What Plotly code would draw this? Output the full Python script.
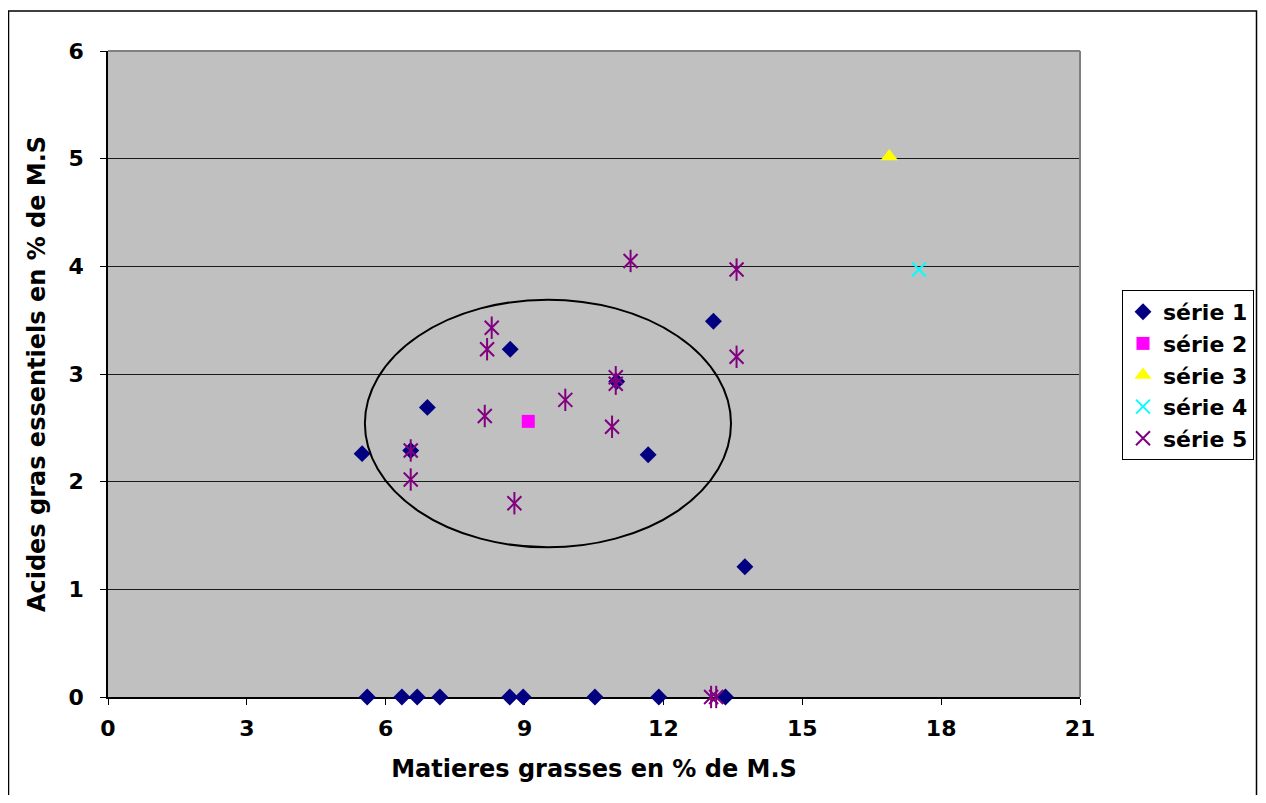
import plotly.graph_objects as go

# ---- data ----
s1_x = [5.49, 5.60, 6.35, 6.68, 7.17, 8.68, 8.97, 10.52, 11.90, 13.34,
        6.54, 6.90, 8.69, 10.99, 11.67, 13.08, 13.76]
s1_y = [2.26, 0, 0, 0, 0, 0, 0, 0, 0, 0,
        2.29, 2.69, 3.23, 2.93, 2.25, 3.49, 1.21]
s2_x = [9.08]
s2_y = [2.56]
s3_x = [16.88]
s3_y = [5.02]
s4_x = [17.52]
s4_y = [3.97]
s5_x = [6.54, 6.54, 8.14, 8.19, 8.29, 8.78, 9.88, 10.89, 10.97, 10.97,
        11.29, 13.58, 13.58, 13.03, 13.14]
s5_y = [2.29, 2.02, 2.61, 3.23, 3.43, 1.80, 2.76, 2.51, 2.97, 2.91,
        4.05, 3.97, 3.16, 0, 0]
series_names = ["série 1", "série 2", "série 3", "série 4", "série 5"]
x_ticks = [0, 3, 6, 9, 12, 15, 18, 21]
y_ticks = [0, 1, 2, 3, 4, 5, 6]
ellipse_x = [5.55, 13.46]
ellipse_y = [1.39, 3.69]

FONT = "DejaVu Sans"
OFF = 8  # page body margin
W, H = 1266 - 2 * OFF, 803 - 2 * OFF
L, R, T, B = 108 - OFF, 1080 - OFF, 51 - OFF, 697 - OFF

fig = go.Figure()
fig.add_trace(go.Scatter(x=s1_x, y=s1_y, mode="markers", name=series_names[0],
                         marker=dict(symbol="diamond", size=13, color="#000080"), cliponaxis=False))
fig.add_trace(go.Scatter(x=s2_x, y=s2_y, mode="markers", name=series_names[1],
                         marker=dict(symbol="square", size=13, color="#FF00FF"), cliponaxis=False))
fig.add_trace(go.Scatter(x=s3_x, y=s3_y, mode="markers", name=series_names[2],
                         marker=dict(symbol="triangle-up", size=15, color="#FFFF00"), cliponaxis=False))
fig.add_trace(go.Scatter(x=s4_x, y=s4_y, mode="markers", name=series_names[3],
                         marker=dict(symbol="x-thin-open", size=14, color="#00FFFF",
                                     line=dict(width=2, color="#00FFFF")), cliponaxis=False))
fig.add_trace(go.Scatter(x=s5_x, y=s5_y, mode="markers", name=series_names[4],
                         marker=dict(symbol="x-thin-open", size=14, color="#800080",
                                     line=dict(width=2, color="#800080")), cliponaxis=False))
fig.add_trace(go.Scatter(x=s5_x, y=s5_y, mode="markers", name=series_names[4], showlegend=False,
                         marker=dict(symbol="line-ns-open", size=16, color="#800080",
                                     line=dict(width=2, color="#800080")), cliponaxis=False))

px = lambda p: (p - OFF - L) / (R - L)
py = lambda p: (B - (p - OFF)) / (B - T)

shapes = [
    dict(type="circle", xref="x", yref="y", x0=ellipse_x[0], x1=ellipse_x[1],
         y0=ellipse_y[0], y1=ellipse_y[1], line=dict(color="black", width=2)),
    dict(type="line", xref="paper", yref="paper", x0=0, x1=1, y0=1, y1=1,
         line=dict(color="#808080", width=2)),
    dict(type="line", xref="paper", yref="paper", x0=1, x1=1, y0=0, y1=1,
         line=dict(color="#808080", width=2)),
    dict(type="rect", xref="paper", yref="paper", x0=px(8.5), x1=px(1256.5),
         y0=py(806), y1=py(11), line=dict(color="black", width=1.5)),
]

fig.update_layout(
    width=W, height=H,
    margin=dict(l=L, r=W - R, t=T, b=H - B, autoexpand=False),
    paper_bgcolor="white", plot_bgcolor="#C0C0C0",
    font=dict(family=FONT, color="black", size=22, weight="bold"),
    showlegend=True,
    legend=dict(x=px(1122), y=py(290), xanchor="left", yanchor="top",
                bgcolor="white", bordercolor="black", borderwidth=1,
                font=dict(family=FONT, size=22, weight="bold", color="black"),
                tracegroupgap=0),
    shapes=shapes,
)
fig.update_xaxes(range=[0, 21], tickvals=x_ticks, showgrid=False, zeroline=False,
                 showline=True, linecolor="black", linewidth=1.5,
                 ticks="outside", ticklen=6, tickcolor="black",
                 tickfont=dict(family=FONT, size=22, weight="bold"),
                 ticklabelstandoff=5, layer="below traces",
                 title=dict(text="Matieres grasses en % de M.S", standoff=20,
                            font=dict(family=FONT, size=24, weight="bold")))
fig.update_yaxes(range=[0, 6], tickvals=y_ticks, showgrid=True, gridcolor="#1a1a1a", gridwidth=1,
                 zeroline=False, showline=True, linecolor="black", linewidth=1.5,
                 ticks="outside", ticklen=6, tickcolor="black",
                 tickfont=dict(family=FONT, size=22, weight="bold"),
                 ticklabelstandoff=12, layer="below traces",
                 title=dict(text="Acides gras essentiels en % de M.S", standoff=16,
                            font=dict(family=FONT, size=24, weight="bold")))

fig.write_html("out.html")
